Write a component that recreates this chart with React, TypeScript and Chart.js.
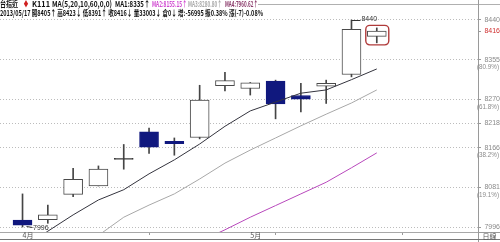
import { useEffect, useRef } from "react";
import { Chart, registerables } from "chart.js";

Chart.register(...registerables);

// Daily candles, 台指近 (K111)
const dayIndex = [0, 1, 2, 3, 4, 5, 6, 7, 8, 9, 10, 11, 12, 13, 14];
const opens = [8011, 8012, 8066, 8084, 8141, 8200, 8180, 8188, 8299, 8293, 8309, 8278, 8298, 8323, 8405];
const highs = [8067, 8043, 8122, 8127, 8173, 8208, 8187, 8300, 8328, 8306, 8311, 8304, 8311, 8440, 8423];
const lows = [7996, 8004, 8061, 8084, 8120, 8154, 8150, 8185, 8288, 8279, 8228, 8243, 8261, 8318, 8391];
const closes = [8000, 8022, 8098, 8120, 8141, 8167, 8175, 8268, 8310, 8305, 8260, 8270, 8304, 8420, 8416];

// Moving averages (MA1 = 5, MA3 = 10, MA2 = 20)
const ma5 = [7950, 7987, 8022, 8054, 8076, 8110, 8140, 8174, 8212, 8245, 8264, 8283, 8290, 8312, 8335];
const ma10 = [null, null, null, 7978, 8017, 8043, 8067, 8099, 8133, 8161, 8187, 8213, 8238, 8262, 8290];
const ma20 = [null, null, null, null, null, null, null, 7965, 7990, 8017, 8042, 8067, 8092, 8123, 8155];

// Right axis price levels (range low 7996 to high 8440 and its retracements)
const priceLevels = [7996, 8081, 8166, 8218, 8270, 8355, 8416, 8440];
const lastClose = 8416;
const fibValues = [8081, 8166, 8270, 8355];
const fibLabels = ["(19.1%)", "(38.2%)", "(61.8%)", "(80.9%)"];

// Bottom axis
const weekTicks = [5, 10, 15];
const dateLabels = ["4月", "5月"];
const dateLabelIndex = [0, 9];

// Header rows
const headerTop = ["台指近", "♦", "K111", "MA(5,20,10,60,0,0)", "MA1:8335↑", "MA2:8155.15↑", "MA3:8280.80↑", "MA4:7960.62↑"];
const headerBottom = "2013/05/17 開8405↑ 高8423↓ 低8391↑ 收8416↓ 量33003↓ 倉0↓ 增:-56995 振0.38% 漲(-7)-0.08%";

const BLUE = "#10187e";
const LINE_GREY = "#4a4a4a";

const candleFill = dayIndex.map((i) =>
  closes[i] > opens[i] ? "#ffffff" : closes[i] < opens[i] ? BLUE : "#3a3a3a"
);
const candleBorder = dayIndex.map((i) =>
  closes[i] > opens[i] ? LINE_GREY : closes[i] < opens[i] ? BLUE : "#3a3a3a"
);

const overlay = {
  id: "overlay",
  afterDraw(chart: any) {
    const { ctx, chartArea } = chart;
    const x = chart.scales.x;
    const y = chart.scales.y;
    ctx.save();

    // header rows
    const cjk = '"Noto Sans CJK TC", "Noto Sans CJK SC", sans-serif';
    ctx.font = `bold 8px ${cjk}`;
    ctx.textBaseline = "middle";
    ctx.textAlign = "left";
    const topSpec: [number, number, string][] = [
      [0, 18, "#111"],
      [23, 6, "#d02020"],
      [32, 18, "#111"],
      [52, 60, "#111"],
      [115, 35, "#111"],
      [152, 35, "#d048d0"],
      [188, 34, "#a8a8a8"],
      [225, 33, "#8a3a6a"],
    ];
    headerTop.forEach((t, k) => {
      const [px, w, c] = topSpec[k];
      ctx.fillStyle = c;
      ctx.fillText(t, px, 4, w);
    });
    ctx.fillStyle = "#111";
    ctx.fillText(headerBottom, 0, 13, 263);

    ctx.strokeStyle = "#b0b0b0";
    ctx.lineWidth = 1;
    ctx.beginPath();
    ctx.moveTo(258, 4.5);
    ctx.lineTo(500, 4.5);
    ctx.stroke();

    // frame around the price panel
    const rx = Math.round(chartArea.right) + 0.5;
    ctx.strokeStyle = "#9a9a9a";
    ctx.beginPath();
    ctx.moveTo(rx, 0);
    ctx.lineTo(rx, 242);
    ctx.moveTo(rx, 232.5);
    ctx.lineTo(500, 232.5);
    ctx.stroke();
    ctx.strokeStyle = "#777";
    ctx.beginPath();
    ctx.moveTo(0, 239.5);
    ctx.lineTo(500, 239.5);
    ctx.stroke();

    // retracement percentages under the level labels
    ctx.font = "7px 'Liberation Sans', sans-serif";
    ctx.fillStyle = "#8a8a8a";
    ctx.textAlign = "right";
    fibValues.forEach((v, k) => {
      ctx.fillText(fibLabels[k], 499, y.getPixelForValue(v) + 7.5, 22);
    });
    ctx.textAlign = "center";
    ctx.font = `7px ${cjk}`;
    ctx.fillStyle = "#555";
    ctx.fillText("日線", rx + 11, 236.5);

    // bottom date labels
    ctx.textAlign = "left";
    dateLabels.forEach((t, k) => {
      ctx.fillText(t, x.getPixelForValue(dateLabelIndex[k]), 235.5);
    });

    // high / low markers
    ctx.font = "7px 'Liberation Sans', sans-serif";
    ctx.fillStyle = "#333";
    ctx.strokeStyle = "#333";
    let hi = 0;
    let lo = 0;
    dayIndex.forEach((i) => {
      if (highs[i] > highs[hi]) hi = i;
      if (lows[i] < lows[lo]) lo = i;
    });
    const hx = x.getPixelForValue(hi);
    const hy = Math.round(y.getPixelForValue(highs[hi])) + 0.5;
    ctx.beginPath();
    ctx.moveTo(hx, hy);
    ctx.lineTo(hx + 9, hy);
    ctx.stroke();
    ctx.textBaseline = "middle";
    ctx.fillText(String(highs[hi]), hx + 10, hy - 1);
    const lx = x.getPixelForValue(lo);
    const ly = Math.round(y.getPixelForValue(lows[lo])) - 0.5;
    ctx.beginPath();
    ctx.moveTo(lx + 4, ly);
    ctx.lineTo(lx + 10, ly + 1);
    ctx.stroke();
    ctx.fillText(String(lows[lo]), lx + 10.5, ly + 2);

    // highlight on the latest candle
    const last = dayIndex[dayIndex.length - 1];
    const cx = x.getPixelForValue(last);
    const top = y.getPixelForValue(highs[last]) - 2.5;
    const bottom = y.getPixelForValue(lows[last]) + 2;
    ctx.strokeStyle = "#b03a3a";
    ctx.lineWidth = 1.4;
    ctx.beginPath();
    (ctx as any).roundRect(cx - 11, top, 23, bottom - top, 4);
    ctx.stroke();

    ctx.restore();
  },
};

export default function App() {
  const ref = useRef<HTMLCanvasElement | null>(null);

  useEffect(() => {
    if (!ref.current) return;
    const chart = new Chart(ref.current, {
      type: "bar",
      data: {
        datasets: [
          {
            type: "line",
            label: "MA1",
            data: dayIndex.map((i) => ({ x: i, y: ma5[i] })),
            borderColor: "#34343e",
            borderWidth: 1,
            pointRadius: 0,
            tension: 0,
            order: 0,
          },
          {
            type: "line",
            label: "MA3",
            data: dayIndex.map((i) => ({ x: i, y: ma10[i] })),
            borderColor: "#a8a8a8",
            borderWidth: 1,
            pointRadius: 0,
            tension: 0,
            order: 0,
          },
          {
            type: "line",
            label: "MA2",
            data: dayIndex.map((i) => ({ x: i, y: ma20[i] })),
            borderColor: "#b848bc",
            borderWidth: 1,
            pointRadius: 0,
            tension: 0,
            order: 0,
          },
          {
            type: "bar",
            label: "body",
            data: dayIndex.map((i) => ({ x: i, y: [opens[i], closes[i]] })),
            backgroundColor: candleFill,
            borderColor: candleBorder,
            borderWidth: 1,
            borderSkipped: false,
            barThickness: 19,
            minBarLength: 1,
            grouped: false,
            order: 1,
          },
          {
            type: "bar",
            label: "wick",
            data: dayIndex.map((i) => ({ x: i, y: [lows[i], highs[i]] })),
            backgroundColor: "#454545",
            borderWidth: 0,
            barThickness: 1,
            grouped: false,
            order: 2,
          },
        ] as any,
      },
      options: {
        responsive: false,
        animation: false,
        devicePixelRatio: 1,
        layout: { padding: { left: 0, right: 0, top: 15, bottom: 0 } },
        plugins: { legend: { display: false }, tooltip: { enabled: false } },
        scales: {
          x: {
            type: "linear",
            min: -0.89,
            max: 18,
            offset: false,
            grid: {
              offset: false,
              drawOnChartArea: false,
              drawTicks: true,
              tickLength: 3,
              color: "#999",
            },
            border: { display: true, color: "#a8a8a8" },
            ticks: { display: false },
            afterBuildTicks: (s: any) => {
              s.ticks = weekTicks.map((v) => ({ value: v }));
            },
            afterFit: (s: any) => {
              s.height = 10;
            },
          },
          y: {
            type: "linear",
            position: "right",
            min: 7985.3,
            max: 8450.7,
            grid: {
              color: (c: any) => (c.tick && c.tick.value === lastClose ? "rgba(0,0,0,0)" : "#bcbcbc"),
              drawTicks: true,
              tickLength: 3,
              tickColor: "#999",
            },
            border: { display: false, dash: [1, 2] },
            ticks: {
              padding: 2,
              crossAlign: "far",
              font: { size: 7, family: "'Liberation Sans', sans-serif" },
              color: (c: any) => (c.tick && c.tick.value === lastClose ? "#d03030" : "#8a8a8a"),
              callback: (v: any) => String(v),
            },
            afterBuildTicks: (s: any) => {
              s.ticks = priceLevels.map((v) => ({ value: v }));
            },
            afterFit: (s: any) => {
              s.width = 22;
            },
          },
        },
      } as any,
      plugins: [overlay],
    });
    return () => chart.destroy();
  }, []);

  return (
    <div style={{ position: "fixed", left: 0, top: 0, width: 500, height: 242, background: "#fff" }}>
      <canvas ref={ref} width={500} height={242} style={{ display: "block" }} />
    </div>
  );
}
